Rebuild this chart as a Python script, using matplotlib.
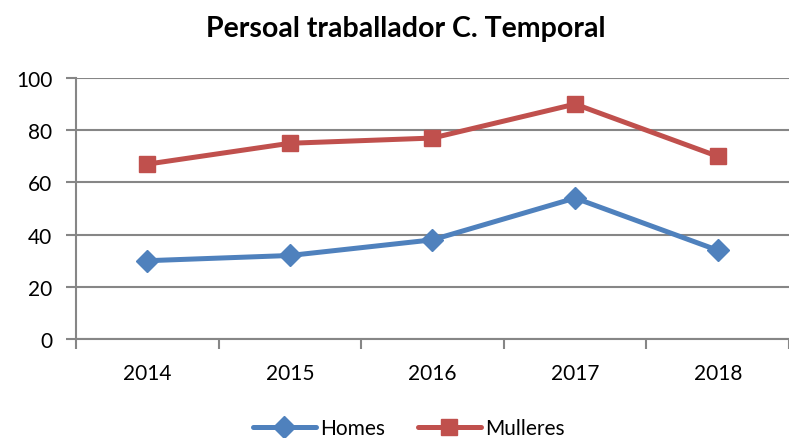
import matplotlib.pyplot as plt
from matplotlib.ticker import FixedLocator, NullFormatter

plt.rcParams['font.family'] = ['Lato', 'DejaVu Sans']

# === DATEN ===
years = ["2014", "2015", "2016", "2017", "2018"]
homes = [30, 32, 38, 54, 34]
mulleres = [67, 75, 77, 90, 70]

BLUE = "#4F81BD"
RED = "#C0504D"
GRID = "#868686"

fig = plt.figure(figsize=(7.89, 4.39), dpi=100)
ax = fig.add_axes([0.0963, 0.2255, 0.9037, 0.5945])

x = list(range(len(years)))
ax.plot(x, homes, color=BLUE, lw=3.6, marker='D', markersize=11,
        label="Homes", solid_capstyle='round', zorder=3)
ax.plot(x, mulleres, color=RED, lw=3.6, marker='s', markersize=12,
        label="Mulleres", solid_capstyle='round', zorder=3)

ax.set_xlim(-0.5, len(years) - 0.5)
ax.set_ylim(0, 100)
ax.set_yticks(range(0, 101, 20))
ax.yaxis.grid(True, color=GRID, lw=1.5)
ax.set_axisbelow(True)

# Kategorien mittig, Striche zwischen den Kategorien
ax.set_xticks(x)
ax.set_xticklabels(years)
ax.xaxis.set_minor_locator(FixedLocator([i - 0.5 for i in range(len(years) + 1)]))
ax.xaxis.set_minor_formatter(NullFormatter())
ax.tick_params(axis='x', which='major', length=0, pad=17, labelsize=15)
ax.tick_params(axis='x', which='minor', length=7, width=1.5, color=GRID, direction='out')
ax.tick_params(axis='y', length=7, width=1.5, color=GRID, direction='out', pad=10, labelsize=15)

for side in ["top", "right"]:
    ax.spines[side].set_visible(False)
for side in ["left", "bottom"]:
    ax.spines[side].set_color(GRID)
    ax.spines[side].set_linewidth(1.5)

fig.text(0.514, 0.935, "Persoal traballador C. Temporal", ha='center', va='center',
         fontsize=20.5, fontweight='bold')

fig.legend(loc='center', bbox_to_anchor=(0.518, 0.022), ncol=2, frameon=False,
           fontsize=15, handlelength=3.0, handletextpad=0.2, columnspacing=1.6)

plt.savefig("out.png", dpi=100)
